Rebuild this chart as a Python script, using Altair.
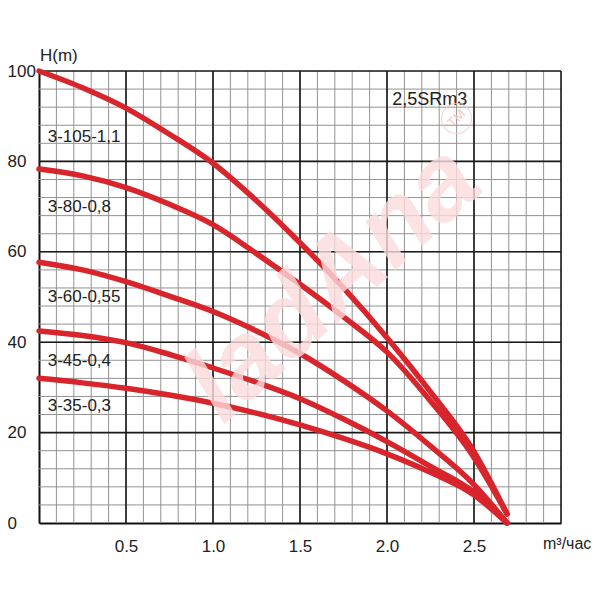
import altair as alt
import pandas as pd
import numpy as np

# ---- data ----
flow = [0, 0.25, 0.5, 0.75, 1.0, 1.25, 1.5, 1.75, 2.0, 2.25, 2.5, 2.69]
h_105 = [100, 96.3, 91.8, 86.0, 79.6, 71.3, 62.0, 52.0, 41.0, 29.0, 15.8, 2.0]
h_80 = [78.3, 76.8, 74.2, 70.5, 66.0, 59.6, 52.8, 45.6, 37.8, 27.0, 14.5, 2.0]
h_60 = [57.7, 56.0, 53.4, 50.2, 46.8, 42.5, 37.5, 31.5, 24.8, 17.0, 8.5, 0.0]
h_45 = [42.5, 41.5, 39.9, 37.3, 34.3, 31.1, 27.5, 23.0, 18.0, 12.5, 6.8, 0.0]
h_35 = [32.0, 31.0, 29.8, 28.3, 26.5, 24.3, 21.7, 18.7, 15.3, 11.2, 6.2, 0.0]
models = ["3-105-1,1", "3-80-0,8", "3-60-0,55", "3-45-0,4", "3-35-0,3"]
label_h = [85.4, 69.9, 50.0, 35.8, 25.8]
x_ticks = [0.5, 1.0, 1.5, 2.0, 2.5]
y_ticks = [0, 20, 40, 60, 80, 100]
series_title = "2,5SRm3"
y_title = "H(m)"
x_title = "m³/час"
watermark = "ladAna"

FONT = "Liberation Sans, Arial, sans-serif"
RED = "#d8242b"

rows = []
for name, hs in zip(models, [h_105, h_80, h_60, h_45, h_35]):
    for q, h in zip(flow, hs):
        rows.append({"model": name, "q": q, "h": h})
curves = pd.DataFrame(rows)

xs = alt.Scale(domain=[0, 3], nice=False, zero=False)
ys = alt.Scale(domain=[0, 100], nice=False, zero=False)

# grid positions
minor_x = pd.DataFrame({"x": np.round(np.arange(0.1, 3.0, 0.1), 2)})
major_x = pd.DataFrame({"x": [0.5, 1.0, 1.5, 2.0, 2.5, 3.0]})
minor_y = pd.DataFrame({"y": np.arange(4, 100, 4)})
major_y = pd.DataFrame({"y": [20, 40, 60, 80, 100]})

xaxis = alt.Axis(values=x_ticks, format=".1f", grid=False, ticks=False,
                 domainColor="#111", domainWidth=2, labelFont=FONT,
                 labelFontSize=17, labelColor="#222", labelPadding=15, title=None)
yaxis = alt.Axis(values=y_ticks, grid=False, ticks=False, domainColor="#111",
                 domainWidth=2, labelFont=FONT, labelFontSize=17,
                 labelColor="#222", labelAlign="left", labelBaseline="middle",
                 labelPadding=32, title=None)

g1 = alt.Chart(minor_x).mark_rule(color="#929292", strokeWidth=1).encode(
    x=alt.X("x:Q", scale=xs, axis=xaxis))
g2 = alt.Chart(minor_y).mark_rule(color="#929292", strokeWidth=1).encode(
    y=alt.Y("y:Q", scale=ys, axis=yaxis))
g3 = alt.Chart(major_x).mark_rule(color="#1a1a1a", strokeWidth=1.6).encode(
    x=alt.X("x:Q", scale=xs))
g4 = alt.Chart(major_y).mark_rule(color="#1a1a1a", strokeWidth=1.6).encode(
    y=alt.Y("y:Q", scale=ys))

lines = alt.Chart(curves).mark_line(color=RED, strokeWidth=5.5, interpolate="monotone",
                                    strokeCap="round").encode(
    x=alt.X("q:Q", scale=xs),
    y=alt.Y("h:Q", scale=ys),
    detail="model:N",
)

lab_df = pd.DataFrame({"model": models, "h": label_h, "q": [0.05] * len(models)})
labels = alt.Chart(lab_df).mark_text(align="left", baseline="middle", font=FONT,
                                     fontSize=17, color="#222").encode(
    x=alt.X("q:Q", scale=xs), y=alt.Y("h:Q", scale=ys), text="model:N")

misc = pd.DataFrame({"t": [series_title], "q": [2.03], "h": [93.6]})
stitle = alt.Chart(misc).mark_text(align="left", baseline="middle", font=FONT,
                                   fontSize=18, color="#222").encode(
    x=alt.X("q:Q", scale=xs), y=alt.Y("h:Q", scale=ys), text="t:N")

ht = pd.DataFrame({"t": [y_title], "q": [0], "h": [100]})
ytitle = alt.Chart(ht).mark_text(align="left", baseline="middle", font=FONT,
                                 fontSize=17, color="#222", dx=1, dy=-15).encode(
    x=alt.X("q:Q", scale=xs), y=alt.Y("h:Q", scale=ys), text="t:N")

xt = pd.DataFrame({"t": [x_title], "q": [3.0], "h": [0]})
xtitle = alt.Chart(xt).mark_text(align="left", baseline="middle", font=FONT,
                                 fontSize=16, color="#222", dx=-18, dy=21).encode(
    x=alt.X("q:Q", scale=xs), y=alt.Y("h:Q", scale=ys), text="t:N")

wm = pd.DataFrame({"t": [watermark], "q": [1.69], "h": [53.0]})
wmark = alt.Chart(wm).mark_text(align="center", baseline="middle", font=FONT,
                                fontSize=106, fontWeight="bold", fontStyle="italic",
                                angle=318, color="#fcdcdd", opacity=0.8).encode(
    x=alt.X("q:Q", scale=xs), y=alt.Y("h:Q", scale=ys), text="t:N")

tm = pd.DataFrame({"t": ["TM"], "q": [2.4], "h": [89.5]})
tm_ring = alt.Chart(tm).mark_point(shape="circle", size=900, filled=False,
                                   color="#f8c6c8", strokeWidth=1.2).encode(
    x=alt.X("q:Q", scale=xs), y=alt.Y("h:Q", scale=ys))
tm_text = alt.Chart(tm).mark_text(align="center", baseline="middle", font=FONT,
                                  fontSize=13, color="#f8c6c8", angle=315).encode(
    x=alt.X("q:Q", scale=xs), y=alt.Y("h:Q", scale=ys), text="t:N")

chart = alt.layer(g1, g2, g3, g4, lines, labels, stitle, ytitle, xtitle,
                  wmark, tm_ring, tm_text).properties(
    width=522, height=452,
    autosize=alt.AutoSizeParams(type="none"),
    padding={"left": 31, "top": 63, "right": 31, "bottom": 69},
).configure_view(stroke=None).configure(background="white")

chart.save("out.html", embed_options={"renderer": "svg", "actions": False})
